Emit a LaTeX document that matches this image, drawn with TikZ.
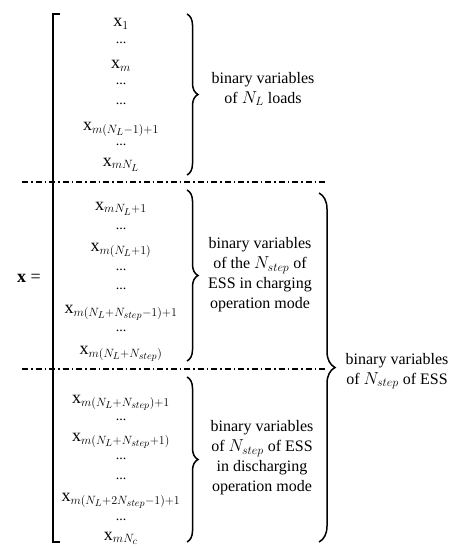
\documentclass[tikz,border=0pt]{standalone}
\usepackage{fontspec}
\setmainfont{Liberation Serif}
\usepackage{amsmath}
\DeclareMathSizes{18}{18}{13}{10}
\DeclareMathSizes{16}{16}{12}{9}
\usetikzlibrary{decorations.pathreplacing}
\begin{document}
\begin{tikzpicture}[x=1pt,y=-1pt,
  entry/.style={font=\fontsize{18}{20}\selectfont, inner sep=0pt, anchor=base},
  edots/.style={font=\fontsize{14}{14}\selectfont, inner sep=0pt, anchor=base},
  lbl/.style={font=\fontsize{16}{20}\selectfont, align=center, inner sep=0pt},
  sep/.style={line width=1.4pt, dash pattern=on 6pt off 3pt on 1.5pt off 3pt},
  brk/.style={line width=1.5pt},
  brc/.style={line width=1.5pt, decorate, decoration={brace, amplitude=11pt}},
  bigbrc/.style={line width=1.5pt, decorate, decoration={brace, amplitude=16pt}}]
\useasboundingbox (0,0) rectangle (474,559);
\newcommand{\vx}{\text{x}}
% bracket
\draw[brk] (60,14) -- (53,14) -- (53,542) -- (60,542);
% separators
\draw[sep] (22,182) -- (327,182);
\draw[sep] (22,369) -- (327,369);
% braces
\coordinate (b1t) at (187,14);  \coordinate (b1b) at (187,175);
\coordinate (b2t) at (187,190); \coordinate (b2b) at (187,361);
\coordinate (b3t) at (187,377); \coordinate (b3b) at (187,542);
\coordinate (b4t) at (319,193); \coordinate (b4b) at (319,542);
\draw[brc] (b1t) -- (b1b);
\draw[brc] (b2t) -- (b2b);
\draw[brc] (b3t) -- (b3b);
\draw[bigbrc] (b4t) -- (b4b);
% x =
\node[font=\fontsize{18}{20}\selectfont] (xeq) at (29,278) {$\mathbf{x}$ =};
% block 1
\node[entry] (e1) at (121,27) {$\vx_{1}$};
\node[edots] (d1) at (121,44) {...};
\node[entry] (e2) at (121,69) {$\vx_{m}$};
\node[edots] (d2) at (121,85) {...};
\node[edots] (d3) at (121,105) {...};
\node[entry] (e3) at (121,130) {$\vx_{m(N_L-1)+1}$};
\node[edots] (d4) at (121,146) {...};
\node[entry] (e4) at (121,166) {$\vx_{mN_L}$};
% block 2
\node[entry] (e5) at (121,210) {$\vx_{mN_L+1}$};
\node[edots] (d5) at (121,229) {...};
\node[entry] (e6) at (121,251) {$\vx_{m(N_L+1)}$};
\node[edots] (d6) at (121,270) {...};
\node[edots] (d7) at (121,289) {...};
\node[entry] (e7) at (121,313) {$\vx_{m(N_L+N_{step}-1)+1}$};
\node[edots] (d8) at (121,331) {...};
\node[entry] (e8) at (121,354) {$\vx_{m(N_L+N_{step})}$};
% block 3
\node[entry] (e9) at (121,403) {$\vx_{m(N_L+N_{step})+1}$};
\node[edots] (d9) at (121,420) {...};
\node[entry] (e10) at (121,441) {$\vx_{m(N_L+N_{step}+1)}$};
\node[edots] (d10) at (121,459) {...};
\node[edots] (d11) at (121,479) {...};
\node[entry] (e11) at (121,501) {$\vx_{m(N_L+2N_{step}-1)+1}$};
\node[edots] (d12) at (121,520) {...};
\node[entry] (e12) at (121,540) {$\vx_{mN_c}$};
% labels
\node[lbl] (l1) at (263,89) {binary variables\\of $N_L$ loads};
\node[lbl] (l2) at (260,275) {binary variables\\of the $N_{step}$ of\\ESS in charging\\operation mode};
\node[lbl] (l3) at (262,458) {binary variables\\of $N_{step}$ of ESS\\in discharging\\operation mode};
\node[lbl] (l4) at (397,371) {binary variables\\of $N_{step}$ of ESS};
\end{tikzpicture}
\end{document}
